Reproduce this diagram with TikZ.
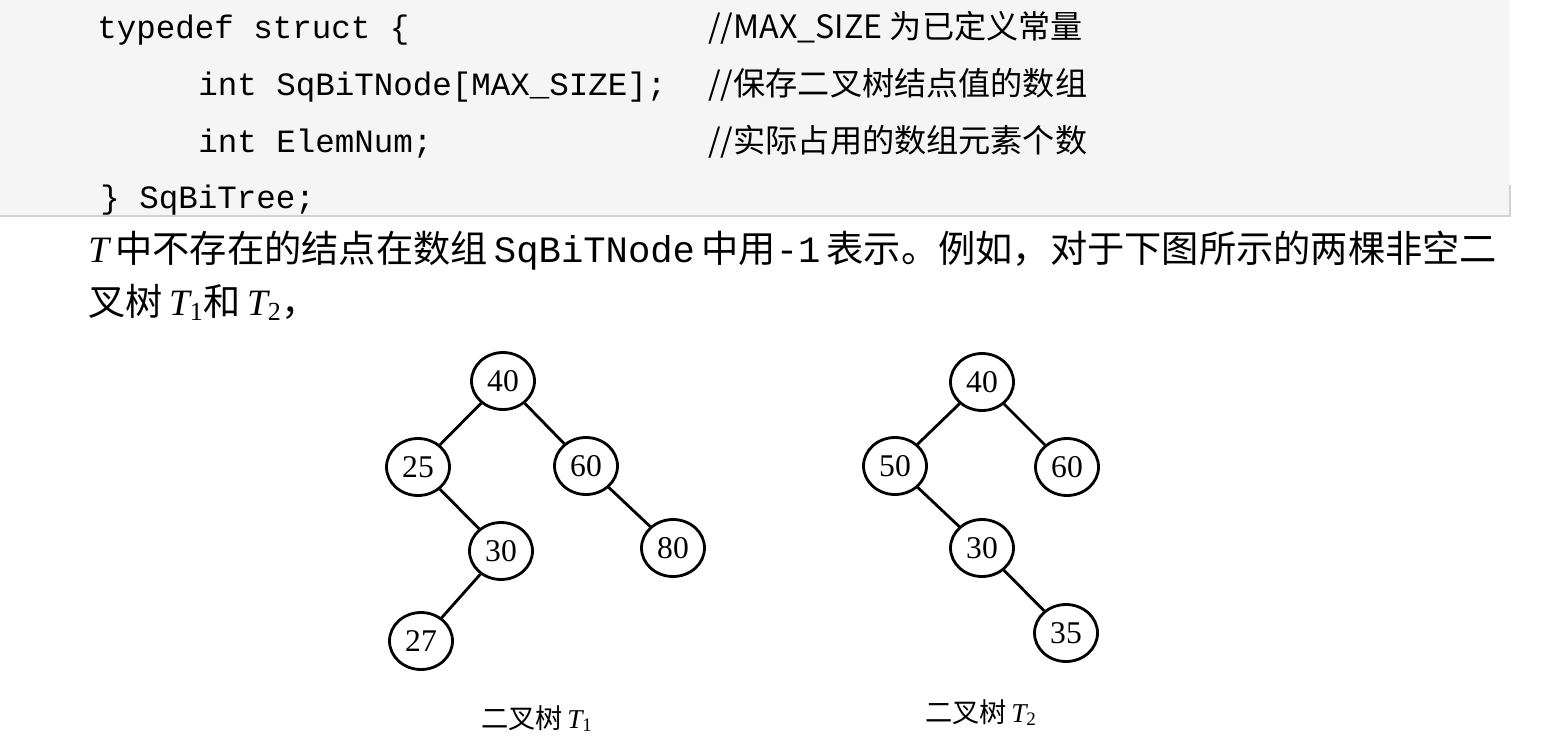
\documentclass[tikz,border=0pt]{standalone}
\usepackage{fontspec}
\setmainfont{Liberation Serif}
\setmonofont{Liberation Mono}
\newfontfamily\cjk{Noto Sans CJK SC}
\usetikzlibrary{shapes.geometric}
\tikzset{
    tnode/.style={draw,ellipse,line width=1.6pt,minimum width=1.26cm,minimum height=1.14cm,
      inner sep=0pt,font=\fontsize{18}{18}\selectfont},
    tedge/.style={line width=1.6pt},
    code/.style={anchor=base west,inner sep=0pt,font=\ttfamily\fontsize{18.5}{18.5}\selectfont},
    remark/.style={anchor=base west,inner sep=0pt,font=\cjk\fontsize{18.3}{18.3}\selectfont},
    body/.style={anchor=base west,inner sep=0pt,font=\fontsize{21.2}{21.2}\selectfont},
    caption/.style={anchor=base,inner sep=0pt,font=\fontsize{15.5}{15.5}\selectfont}
}
\begin{document}
\begin{tikzpicture}[x=0.02cm,y=-0.02cm]
    \useasboundingbox (0,0) rectangle (1555,748);
    % shaded code block
    \fill[gray!8] (0,0) rectangle (1510,216);
    \draw[gray!35,line width=0.6pt] (0,216) -- (1510,216) -- (1510,185);
    \node[code] (l1) at (97,38) {typedef struct \{};
    \node[code] (l2) at (198,95) {int SqBiTNode[MAX\_SIZE];};
    \node[code] (l3) at (198,152) {int ElemNum;};
    \node[code] (l4) at (100,208) {\} SqBiTree;};
    \node[remark] (c1) at (708,38) {//MAX\_SIZE 为已定义常量};
    \node[remark] (c2) at (708,95) {//保存二叉树结点值的数组};
    \node[remark] (c3) at (708,152) {//实际占用的数组元素个数};
    %
    \node[body] (p1) at (88,262) {{\itshape T}\,{\cjk 中不存在的结点在数组}\,{\ttfamily SqBiTNode}\,{\cjk 中用}{\ttfamily -1}\,{\cjk 表示。例如，对于下图所示的两棵非空二}};
    \node[body] (p2) at (88,315) {{\cjk 叉树}\,{\itshape T}\textsubscript{1}{\cjk 和}\,{\itshape T}\textsubscript{2}{\cjk ，}};
    %
    \begin{scope}
     \node[tnode] (a40) at (503,381) {40};
     \node[tnode] (a25) at (418,467) {25};
     \node[tnode] (a60) at (586,466) {60};
     \node[tnode] (a30) at (501,551) {30};
     \node[tnode] (a80) at (673,548) {80};
     \node[tnode] (a27) at (421,641) {27};
     \draw[tedge] (a40) -- (a25) (a40) -- (a60) (a25) -- (a30) (a60) -- (a80) (a30) -- (a27);
     \node[caption] (t1) at (537,728) {{\cjk 二叉树}\,{\itshape T}\textsubscript{1}};
    \end{scope}
    %
    \begin{scope}
     \node[tnode] (b40) at (982,382) {40};
     \node[tnode] (b50) at (895,466) {50};
     \node[tnode] (b60) at (1067,467) {60};
     \node[tnode] (b30) at (982,548) {30};
     \node[tnode] (b35) at (1066,633) {35};
     \draw[tedge] (b40) -- (b50) (b40) -- (b60) (b50) -- (b30) (b30) -- (b35);
     \node[caption] (t2) at (981,722) {{\cjk 二叉树}\,{\itshape T}\textsubscript{2}};
    \end{scope}
\end{tikzpicture}
\end{document}
